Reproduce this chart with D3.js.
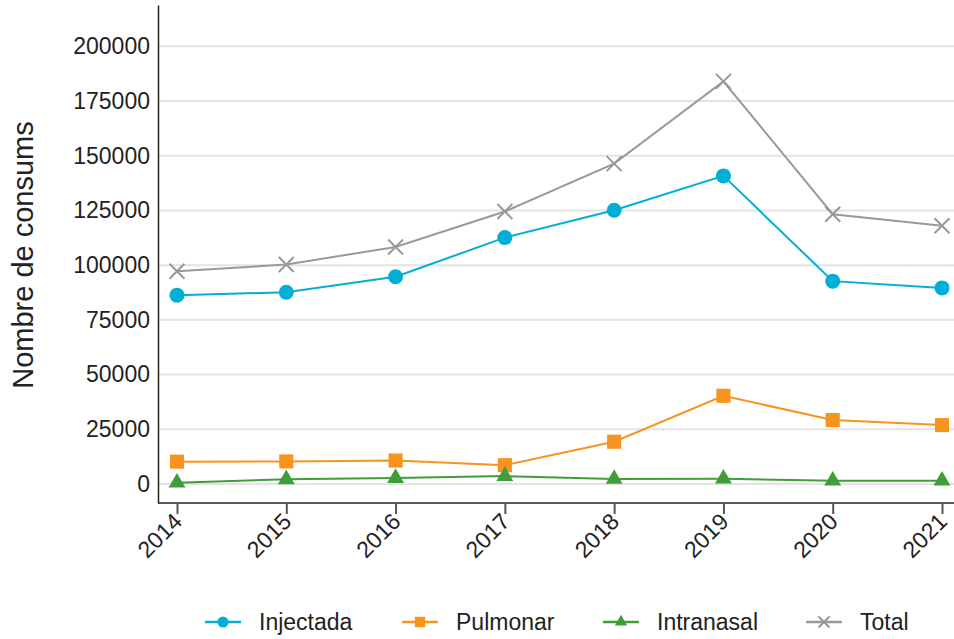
<!DOCTYPE html>
<html lang="ca">
<head>
<meta charset="utf-8">
<title>Nombre de consums</title>
<script src="https://d3js.org/d3.v7.min.js"></script>
<style>
  body { margin: 0; background: #fff; }
  svg text { font-family: "Liberation Sans", Arial, sans-serif; fill: #222; }
  .grid line { stroke: #e3e3e3; stroke-width: 2; }
</style>
</head>
<body>
<div id="chart"></div>
<script>
// data
var years = [2014, 2015, 2016, 2017, 2018, 2019, 2020, 2021];
var injectada  = [86300, 87600, 94700, 112600, 125100, 140800, 92700, 89600];
var pulmonar   = [10200, 10300, 10700, 8600, 19300, 40300, 29200, 26900];
var intranasal = [600, 2100, 2700, 3600, 2300, 2400, 1500, 1500];
var total      = [97200, 100300, 108300, 124500, 146400, 184000, 123300, 118000];
var yTicks = [0, 25000, 50000, 75000, 100000, 125000, 150000, 175000, 200000];

var series = [
  {name: "Injectada",  values: injectada,  color: "#00aed6", shape: "circle"},
  {name: "Pulmonar",   values: pulmonar,   color: "#f7941d", shape: "square"},
  {name: "Intranasal", values: intranasal, color: "#3f9e3a", shape: "triangle"},
  {name: "Total",      values: total,      color: "#999999", shape: "cross"}
];

var W = 954, H = 639;
var svg = d3.select("#chart").append("svg")
  .attr("width", W).attr("height", H);

var x = d3.scaleLinear().domain([2014, 2021]).range([177, 942]);
var y = d3.scaleLinear().domain([-8700, 218900]).range([503, 5]);

// gridlines
svg.append("g").attr("class", "grid")
  .selectAll("line").data(yTicks).enter().append("line")
  .attr("x1", 159).attr("x2", W)
  .attr("y1", function(d) { return y(d); })
  .attr("y2", function(d) { return y(d); });

// y axis
var yAxis = svg.append("g")
  .attr("transform", "translate(158,0)")
  .call(d3.axisLeft(y).tickValues(yTicks).tickSize(0).tickPadding(8).tickFormat(d3.format("d")));
yAxis.select(".domain").attr("stroke", "#222").attr("stroke-width", 1.5);
yAxis.selectAll("text").style("font-size", "23px").attr("fill", "#222");

// x axis
var xAxis = svg.append("g")
  .attr("transform", "translate(0,503)")
  .call(d3.axisBottom(x).tickValues(years).tickSize(11).tickFormat(d3.format("d")));
xAxis.select(".domain").attr("d", "M158,0H" + W).attr("stroke", "#222").attr("stroke-width", 1.5);
xAxis.selectAll(".tick line").attr("stroke", "#555").attr("stroke-width", 2);
xAxis.selectAll("text")
  .style("font-size", "23px").attr("fill", "#222")
  .style("text-anchor", "end")
  .attr("dy", null).attr("y", 0)
  .attr("transform", "translate(6,20) rotate(-45)");

// axis title
svg.append("text")
  .attr("transform", "translate(33,255) rotate(-90)")
  .style("text-anchor", "middle")
  .style("font-size", "29px")
  .text("Nombre de consums");

function drawMarker(g, shape, color, s) {
  if (shape === "circle") {
    g.append("circle").attr("r", s * 0.5).attr("fill", color);
  } else if (shape === "square") {
    g.append("rect").attr("x", -s * 0.47).attr("y", -s * 0.47)
      .attr("width", s * 0.94).attr("height", s * 0.94).attr("fill", color);
  } else if (shape === "triangle") {
    g.append("path").attr("d", d3.symbol().type(d3.symbolTriangle).size(s * s * 0.55)())
      .attr("fill", color);
  } else {
    var h = s * 0.5;
    g.append("path").attr("d", "M" + (-h) + "," + (-h) + "L" + h + "," + h + "M" + (-h) + "," + h + "L" + h + "," + (-h))
      .attr("stroke", color).attr("stroke-width", 2).attr("fill", "none");
  }
}

var line = d3.line()
  .x(function(d, i) { return x(years[i]); })
  .y(function(d) { return y(d); });

series.forEach(function(s) {
  svg.append("path")
    .attr("d", line(s.values))
    .attr("fill", "none")
    .attr("stroke", s.color)
    .attr("stroke-width", 2);
  s.values.forEach(function(v, i) {
    var g = svg.append("g").attr("transform", "translate(" + x(years[i]) + "," + y(v) + ")");
    drawMarker(g, s.shape, s.color, 15);
  });
});

// legend
var legendX = [205, 402, 603, 806];
series.forEach(function(s, i) {
  var g = svg.append("g").attr("transform", "translate(" + legendX[i] + ",622)");
  g.append("line").attr("x1", 0).attr("x2", 36)
    .attr("stroke", s.color).attr("stroke-width", 2.5);
  var m = g.append("g").attr("transform", "translate(18,0)");
  drawMarker(m, s.shape, s.color, 11);
  g.append("text").attr("x", 54).attr("y", 8)
    .style("font-size", "23px").text(s.name);
});
</script>
</body>
</html>
